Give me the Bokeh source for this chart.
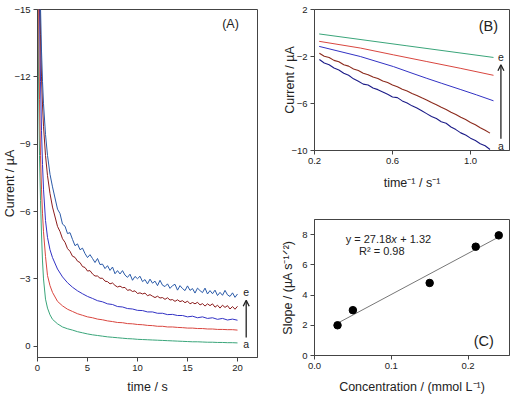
from bokeh.plotting import figure
from bokeh.models import Range1d, FixedTicker, Arrow, OpenHead, Label, NumeralTickFormatter
from bokeh.layouts import row, column
from bokeh.embed import file_html
from bokeh.resources import INLINE

FONT = "Liberation Sans"

# ---------------- Panel A: chronoamperograms (current vs time) ----------------
time_s = [0.05, 0.1, 0.2, 0.3, 0.4, 0.5, 0.6, 0.8, 1.0, 1.25, 1.5,
          2.0, 2.5, 3.0, 3.5, 4.0, 4.5, 5.0, 5.5, 6.0, 6.5, 7.0, 7.5, 8.0, 8.5,
          9.0, 9.5, 10.0, 10.5, 11.0, 11.5, 12.0, 12.5, 13.0, 13.5, 14.0, 14.5,
          15.0, 15.5, 16.0, 16.5, 17.0, 17.5, 18.0, 18.5, 19.0, 19.5, 20.0]

time_dense = [0.05, 0.1, 0.2, 0.3, 0.4, 0.5, 0.6, 0.8, 1.0, 1.25, 1.5,
              2.0, 2.25, 2.5, 2.75, 3.0, 3.25, 3.5, 3.75, 4.0, 4.25, 4.5, 4.75,
              5.0, 5.25, 5.5, 5.75, 6.0, 6.25, 6.5, 6.75, 7.0, 7.25, 7.5, 7.75,
              8.0, 8.25, 8.5, 8.75, 9.0, 9.25, 9.5, 9.75, 10.0, 10.25, 10.5, 10.75,
              11.0, 11.25, 11.5, 11.75, 12.0, 12.25, 12.5, 12.75, 13.0, 13.25, 13.5, 13.75,
              14.0, 14.25, 14.5, 14.75, 15.0, 15.25, 15.5, 15.75, 16.0, 16.25, 16.5, 16.75,
              17.0, 17.25, 17.5, 17.75, 18.0, 18.25, 18.5, 18.75, 19.0, 19.25, 19.5, 19.75, 20.0]

current_a = [-16, -12, -8.5, -6.5, -5.0, -3.8, -3.0, -2.1, -1.7, -1.4, -1.2,
             -1.0, -0.86, -0.78, -0.72, -0.65, -0.6, -0.55, -0.51, -0.48, -0.45, -0.42, -0.4, -0.38, -0.36,
             -0.34, -0.33, -0.31, -0.3, -0.29, -0.28, -0.27, -0.26, -0.25, -0.24, -0.23, -0.22,
             -0.21, -0.2, -0.2, -0.19, -0.18, -0.18, -0.17, -0.17, -0.16, -0.16, -0.15]

current_b = [-25, -16, -11, -8.5, -7.0, -5.9, -5.1, -4.0, -3.15, -2.7, -2.4,
             -2.0, -1.8, -1.65, -1.55, -1.45, -1.38, -1.31, -1.27, -1.21, -1.18, -1.13, -1.1, -1.06, -1.05,
             -1.01, -1.0, -0.97, -0.96, -0.93, -0.92, -0.89, -0.89, -0.86, -0.86, -0.84, -0.83,
             -0.81, -0.81, -0.79, -0.79, -0.77, -0.77, -0.75, -0.75, -0.74, -0.74, -0.72]

current_c = [-30, -22, -15, -11.8, -9.6, -8.1, -7.0, -5.6, -4.85, -4.3, -3.95,
             -3.44, -3.09, -2.83, -2.63, -2.47, -2.34, -2.22, -2.13, -2.03, -1.98, -1.89, -1.86, -1.77, -1.75,
             -1.68, -1.66, -1.6, -1.59, -1.53, -1.53, -1.47, -1.47, -1.41, -1.42, -1.37, -1.37,
             -1.31, -1.34, -1.27, -1.31, -1.24, -1.27, -1.2, -1.24, -1.17, -1.21, -1.16]

current_d = [-34, -24, -17, -13.9, -12.0, -10.75, -9.8, -8.5, -7.6, -6.8, -6.2,
             -5.34, -5.11, -4.79, -4.63, -4.35, -4.23, -4.01, -3.96, -3.79, -3.73, -3.55, -3.51,
             -3.35, -3.37, -3.22, -3.13, -3.13, -3.03, -3.03, -2.90, -2.88, -2.78, -2.82, -2.71,
             -2.64, -2.68, -2.61, -2.62, -2.49, -2.52, -2.44, -2.47, -2.35, -2.38, -2.33, -2.37,
             -2.25, -2.30, -2.23, -2.17, -2.23, -2.15, -2.17, -2.09, -2.16, -2.06, -2.08, -2.00,
             -2.07, -1.99, -2.03, -1.94, -2.01, -1.89, -1.95, -1.89, -1.96, -1.84, -1.90, -1.79,
             -1.89, -1.81, -1.89, -1.74, -1.83, -1.70, -1.83, -1.73, -1.81, -1.66, -1.77, -1.65, -1.78]

current_e = [-36, -25.8, -18.4, -15.1, -13.15, -11.8, -10.8, -9.44, -8.5, -7.66, -7.1,
             -6.11, -5.91, -5.44, -5.35, -5.02, -5.06, -4.76, -4.48, -4.56, -4.30, -4.37, -4.13,
             -3.95, -4.08, -3.91, -3.73, -3.91, -3.64, -3.66, -3.46, -3.59, -3.38, -3.53, -3.23,
             -3.37, -3.22, -3.37, -3.17, -3.07, -3.21, -2.94, -3.11, -3.01, -3.12, -2.88, -2.97,
             -2.78, -2.99, -2.81, -2.90, -2.70, -2.94, -2.72, -2.66, -2.78, -2.58, -2.70, -2.76,
             -2.50, -2.70, -2.57, -2.48, -2.69, -2.49, -2.57, -2.37, -2.59, -2.48, -2.39, -2.59,
             -2.33, -2.48, -2.34, -2.50, -2.26, -2.40, -2.27, -2.49, -2.29, -2.22, -2.38, -2.18, -2.33]

colors_a = ["#3aa57a", "#d9463f", "#3232c4", "#8b1c1c", "#2a5aa8"]

# ---------------- Panel B: current vs time^-1 ----------------
x_b_green = [0.224, 0.674, 1.118]
y_b_green = [-0.08, -1.09, -2.08]
x_b_red = [0.224, 0.435, 0.605, 0.776, 0.947, 1.118]
y_b_red = [-0.71, -1.28, -1.86, -2.43, -3.0, -3.6]
x_b_blue = [0.224, 0.3, 0.435, 0.5, 0.605, 0.7, 0.776, 0.85, 0.947, 1.03, 1.118]
y_b_blue = [-1.14, -1.45, -2.0, -2.33, -2.86, -3.42, -3.86, -4.27, -4.8, -5.26, -5.77]
x_b_dense = [0.225, 0.25, 0.275, 0.3, 0.325, 0.35, 0.375, 0.4, 0.425, 0.45, 0.475, 0.5,
             0.525, 0.55, 0.575, 0.6, 0.625, 0.65, 0.675, 0.7, 0.725, 0.75, 0.775, 0.8,
             0.825, 0.85, 0.875, 0.9, 0.925, 0.95, 0.975, 1.0, 1.025, 1.05, 1.075, 1.1]
y_b_darkred = [-1.72, -1.98, -2.08, -2.33, -2.44, -2.7, -2.82, -3.06, -3.2, -3.43, -3.55, -3.75,
               -3.88, -4.09, -4.22, -4.42, -4.57, -4.78, -4.94, -5.14, -5.31, -5.52, -5.7, -5.92,
               -6.1, -6.32, -6.51, -6.74, -6.93, -7.17, -7.37, -7.61, -7.81, -8.06, -8.27, -8.52]
y_b_navy = [-2.25, -2.55, -2.7, -2.98, -3.15, -3.42, -3.6, -3.9, -4.1, -4.35, -4.42, -4.68,
            -4.82, -5.02, -5.22, -5.45, -5.5, -5.78, -5.95, -6.2, -6.38, -6.62, -6.86, -7.1,
            -7.28, -7.55, -7.68, -8.0, -8.22, -8.5, -8.68, -8.95, -9.15, -9.42, -9.6, -9.92]
colors_b = ["#3aa57a", "#d9463f", "#3232c4", "#8b2a1c", "#1c1c88"]

# ---------------- Panel C: slope vs concentration ----------------
concentration = [0.03, 0.05, 0.15, 0.21, 0.24]
slope = [2.0, 3.0, 4.8, 7.2, 7.95]
fit_slope = 27.18
fit_intercept = 1.32


def style_axes(p, xstand, ystand):
    for ax in (p.xaxis[0], p.yaxis[0]):
        ax.axis_line_color = "#444444"
        ax.major_tick_line_color = "#444444"
        ax.major_tick_out = 4
        ax.major_tick_in = 0
        ax.minor_tick_line_color = None
        ax.major_label_text_font = FONT
        ax.major_label_text_font_size = "9.5px"
        ax.major_label_text_color = "#222222"
        ax.major_label_standoff = 3
        ax.axis_label_text_font = FONT
        ax.axis_label_text_font_size = "12.5px"
        ax.axis_label_text_font_style = "normal"
        ax.axis_label_text_color = "#222222"
    p.xaxis[0].axis_label_standoff = xstand
    p.yaxis[0].axis_label_standoff = ystand
    p.xgrid.visible = False
    p.ygrid.visible = False
    p.outline_line_color = "#444444"
    p.outline_line_alpha = 1.0
    p.background_fill_color = "white"
    p.border_fill_color = "white"


def text(p, x, y, s, size="10.5px", align="center", style="normal", x_offset=0):
    p.add_layout(Label(x=x, y=y, text=s, text_font=FONT, text_font_size=size,
                       text_align=align, text_baseline="middle", text_color="#222222",
                       text_font_style=style, x_offset=x_offset))


# Panel A
pA = figure(width=260, height=396, x_range=Range1d(0, 22), y_range=Range1d(0.5, -15),
            output_backend="svg", toolbar_location=None,
            min_border_left=36, min_border_right=3, min_border_top=9, min_border_bottom=38)
pA.line(time_s, current_a, line_color=colors_a[0], line_width=1)
pA.line(time_s, current_b, line_color=colors_a[1], line_width=1)
pA.line(time_s, current_c, line_color=colors_a[2], line_width=1)
pA.line(time_dense, current_d, line_color=colors_a[3], line_width=1)
pA.line(time_dense, current_e, line_color=colors_a[4], line_width=1)
style_axes(pA, 6, -6)
pA.xaxis.ticker = FixedTicker(ticks=[0, 5, 10, 15, 20])
pA.yaxis.ticker = FixedTicker(ticks=[-15, -12, -9, -6, -3, 0])
pA.xaxis.axis_label = "time / s"
pA.yaxis.axis_label = "Current / µA"
pA.add_layout(Arrow(end=OpenHead(size=6, line_width=1.3, line_color="#222222"),
                    x_start=20.87, y_start=-0.39, x_end=20.87, y_end=-2.05,
                    line_width=1.3, line_color="#222222"))
text(pA, 20.87, -0.08, "a")
text(pA, 20.87, -2.4, "e")
text(pA, 19.3, -14.36, "(A)", size="12.5px")

# Panel B
pB = figure(width=254, height=198, x_range=Range1d(0.2, 1.2), y_range=Range1d(-10, 2),
            output_backend="svg", toolbar_location=None,
            min_border_left=54, min_border_right=5, min_border_top=9, min_border_bottom=48)
pB.line(x_b_green, y_b_green, line_color=colors_b[0], line_width=1)
pB.line(x_b_red, y_b_red, line_color=colors_b[1], line_width=1)
pB.line(x_b_blue, y_b_blue, line_color=colors_b[2], line_width=1)
pB.line(x_b_dense, y_b_darkred, line_color=colors_b[3], line_width=1.1)
pB.line(x_b_dense, y_b_navy, line_color=colors_b[4], line_width=1.1)
style_axes(pB, 9, -9)
pB.xaxis.ticker = FixedTicker(ticks=[0.2, 0.6, 1.0])
pB.xaxis.formatter = NumeralTickFormatter(format="0.0")
pB.yaxis.ticker = FixedTicker(ticks=[2, -2, -6, -10])
pB.xaxis.axis_label = "time⁻¹ / s⁻¹"
pB.yaxis.axis_label = "Current / µA"
pB.add_layout(Arrow(end=OpenHead(size=6, line_width=1.3, line_color="#222222"),
                    x_start=1.156, y_start=-9.0, x_end=1.156, y_end=-2.7,
                    line_width=1.3, line_color="#222222"))
text(pB, 1.156, -9.63, "a")
text(pB, 1.156, -2.05, "e")
text(pB, 1.092, 0.63, "(B)", size="14.5px")

# Panel C
pC = figure(width=254, height=198, x_range=Range1d(0, 0.254), y_range=Range1d(0, 9),
            output_backend="svg", toolbar_location=None,
            min_border_left=54, min_border_right=5, min_border_top=21, min_border_bottom=39)
x0, x1 = concentration[0], concentration[-1]
pC.line([x0, x1], [fit_slope * x0 + fit_intercept, fit_slope * x1 + fit_intercept],
        line_color="#777777", line_width=1)
pC.scatter(concentration, slope, size=7.5, fill_color="black", line_color="black")
style_axes(pC, 8, 4)
pC.xaxis.ticker = FixedTicker(ticks=[0.0, 0.1, 0.2])
pC.xaxis.formatter = NumeralTickFormatter(format="0.0")
pC.yaxis.ticker = FixedTicker(ticks=[0, 2, 4, 6, 8])
pC.xaxis.axis_label = "Concentration / (mmol L⁻¹)"
pC.yaxis.axis_label = "Slope / (µA s⁻¹ᐟ²)"
text(pC, 0.1, 7.71, "y = 27.18", size="11px", align="right")
text(pC, 0.1, 7.71, "x", size="11px", align="left", style="italic")
text(pC, 0.1, 7.71, "+ 1.32", size="11px", align="left", x_offset=9)
text(pC, 0.0877, 6.9, "R² = 0.98", size="11px")
text(pC, 0.2205, 0.95, "(C)", size="14.5px")

layout = row(pA, column(pB, pC))
open("out.html", "w").write(file_html(layout, INLINE))
